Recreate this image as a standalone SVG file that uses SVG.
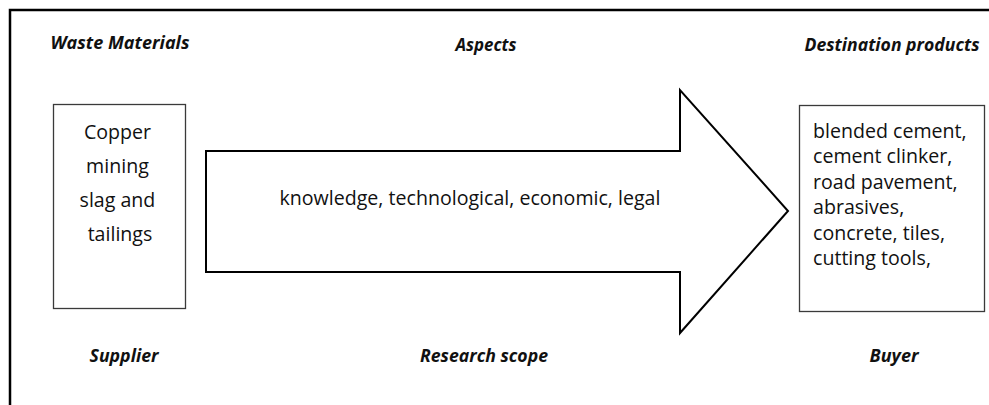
<svg xmlns="http://www.w3.org/2000/svg" width="989" height="405" viewBox="0 0 989 405">
  <style>
    .frame { fill: none; stroke: #000; stroke-width: 2.5; }
    .box { fill: #fff; stroke: #3a3a3a; stroke-width: 1.3; }
    .arrow { fill: #fff; stroke: #000; stroke-width: 2; stroke-linejoin: miter; }
    .head { font-family: "Open Sans", "Liberation Sans", sans-serif; font-weight: bold; font-style: italic; font-size: 18.5px; fill: #111; text-anchor: middle; }
    .body { font-family: "Open Sans", "Liberation Sans", sans-serif; font-size: 19.6px; fill: #111; }
  </style>
  <rect width="989" height="405" fill="#fff"/>
  <!-- page frame (top and left edges only) -->
  <polyline class="frame" points="10,405 10,10 989,10"/>

  <!-- column headings -->
  <g id="headings">
    <text class="head" x="120" y="49" textLength="139" lengthAdjust="spacingAndGlyphs">Waste Materials</text>
    <text class="head" x="486" y="51" textLength="61" lengthAdjust="spacingAndGlyphs">Aspects</text>
    <text class="head" x="892" y="51" textLength="175" lengthAdjust="spacingAndGlyphs">Destination products</text>
    <text class="head" x="124" y="362" textLength="69" lengthAdjust="spacingAndGlyphs">Supplier</text>
    <text class="head" x="484" y="362" textLength="128" lengthAdjust="spacingAndGlyphs">Research scope</text>
    <text class="head" x="894" y="362" textLength="49" lengthAdjust="spacingAndGlyphs">Buyer</text>
  </g>

  <g id="supplier">
    <rect class="box" x="53.5" y="104.5" width="132" height="204"/>
    <text class="body" text-anchor="middle">
      <tspan x="120" y="139">Copper</tspan>
      <tspan x="120" y="173">mining</tspan>
      <tspan x="120" y="207">slag and</tspan>
      <tspan x="120" y="241">tailings</tspan>
    </text>
  </g>

  <g id="connectors">
    <g id="research-scope">
      <polygon class="arrow" points="206,151 680,151 680,90 788,211 680,333 680,272 206,272"/>
      <text class="body" x="470" y="205" text-anchor="middle">knowledge, technological, economic, legal</text>
    </g>
  </g>

  <g id="buyer">
    <rect class="box" x="799.5" y="105.5" width="185" height="206"/>
    <text class="body">
      <tspan x="813" y="138">blended cement,</tspan>
      <tspan x="813" y="163">cement clinker,</tspan>
      <tspan x="813" y="189">road pavement,</tspan>
      <tspan x="813" y="214">abrasives,</tspan>
      <tspan x="813" y="240">concrete, tiles,</tspan>
      <tspan x="813" y="265">cutting tools,</tspan>
    </text>
  </g>
</svg>
